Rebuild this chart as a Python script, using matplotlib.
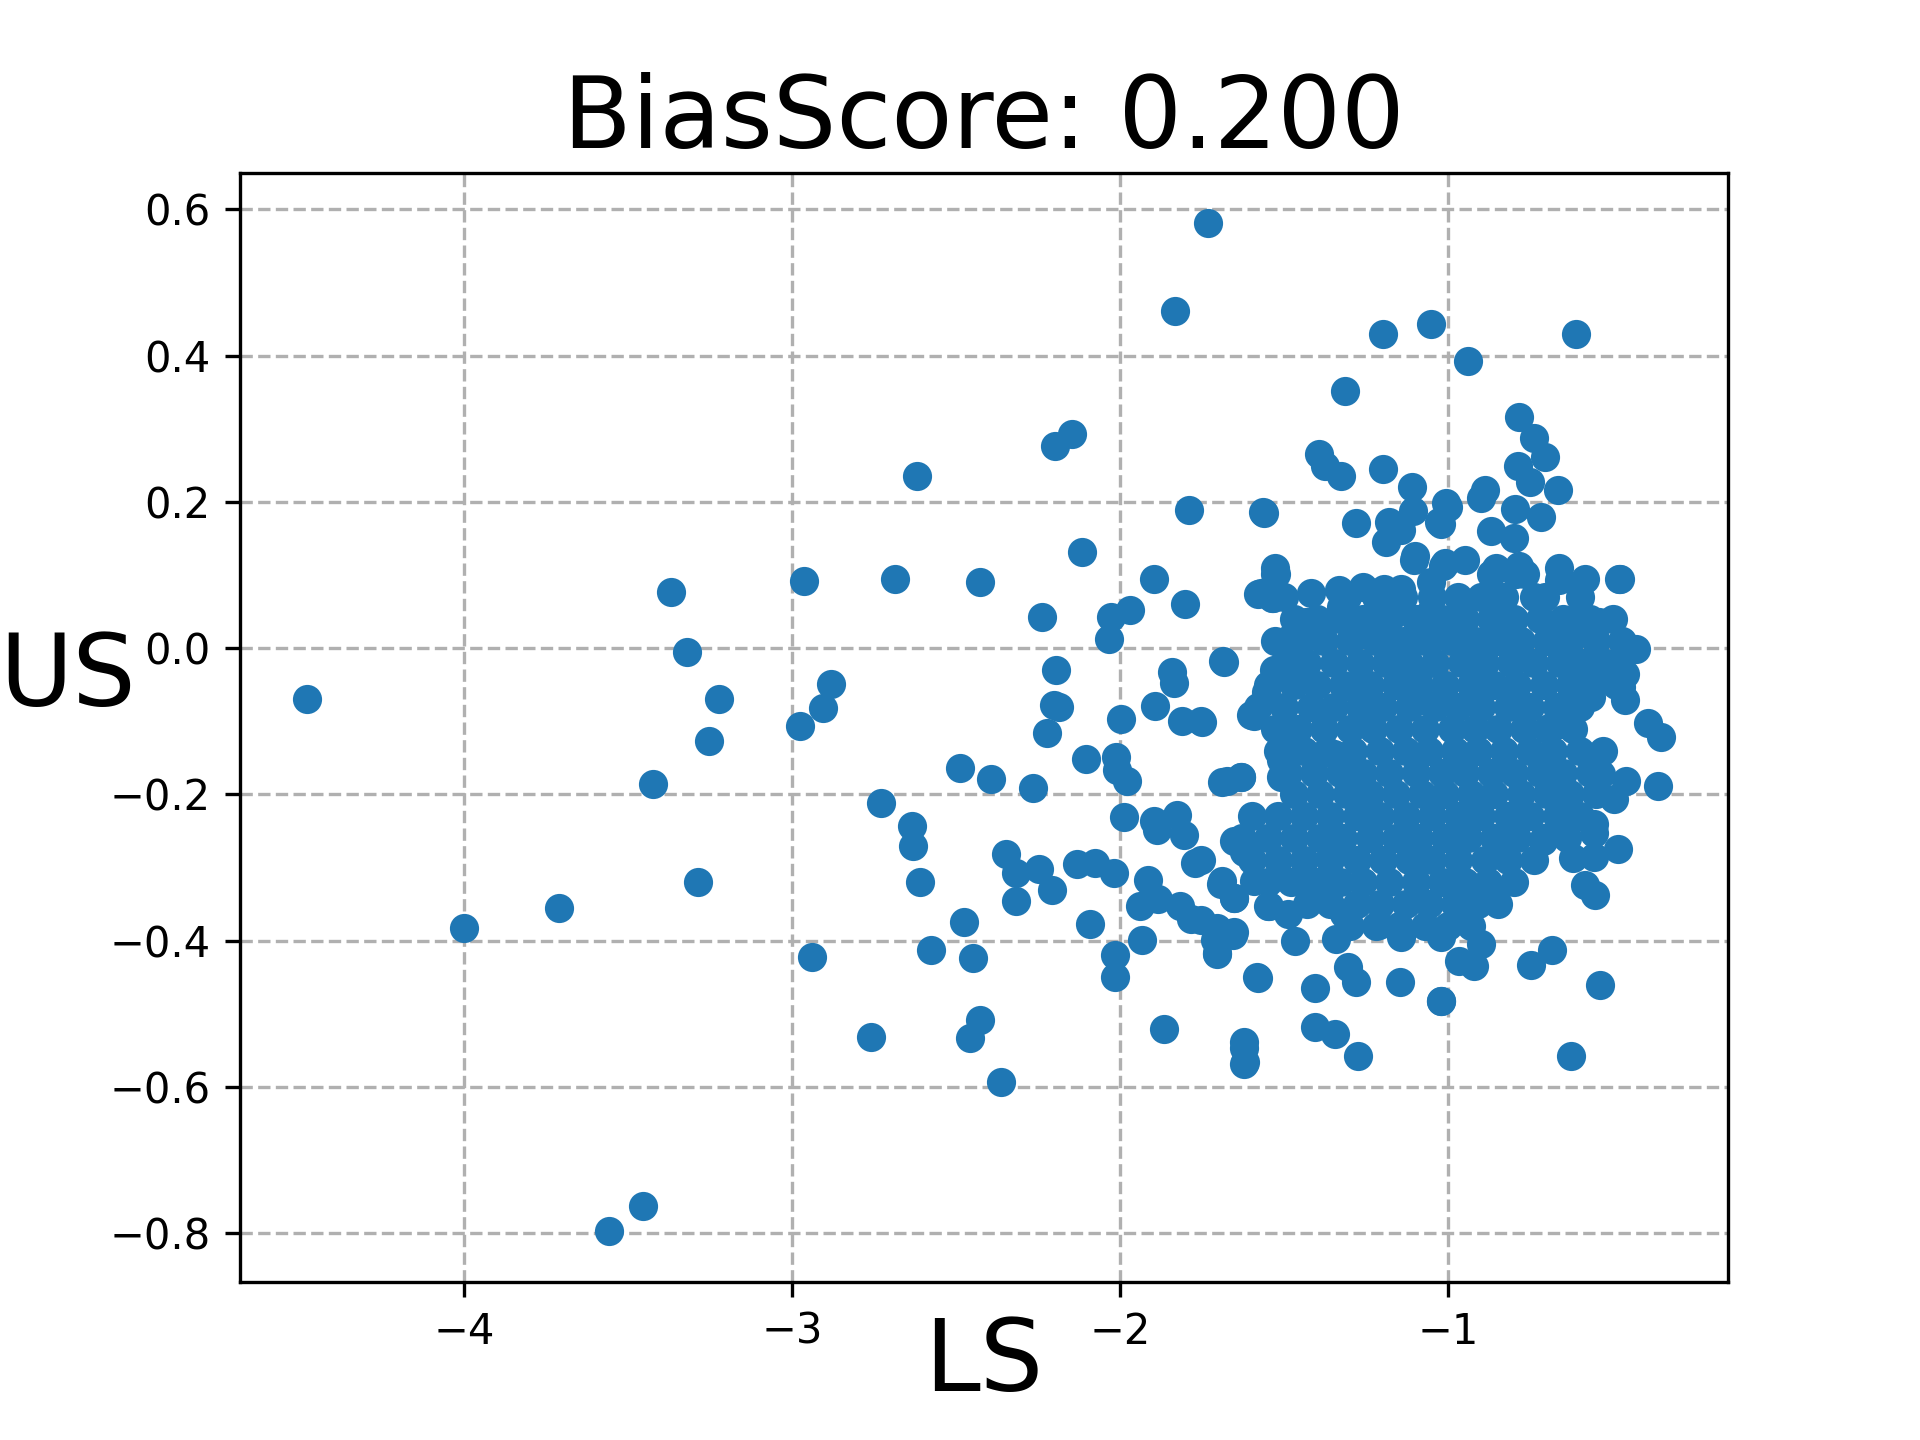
import numpy as np
import matplotlib
matplotlib.use("Agg")
import matplotlib.pyplot as plt

# pontos isolados (fora do aglomerado)
ls_esparso = [-4.478, -4.0, -3.712, -3.559, -3.454, -3.424, -3.368, -3.320, -3.286, -3.253,
              -3.223, -2.965, -2.976, -2.939, -2.905, -2.883, -2.759, -2.730, -2.688, -2.636,
              -2.632, -2.621, -2.610, -2.576, -2.490, -2.476, -2.457, -2.449, -2.427, -2.427,
              -2.393, -2.363, -2.349, -2.319, -2.319, -2.266, -2.248, -2.240, -2.222, -2.207,
              -2.203, -2.199, -2.195, -2.188, -2.147, -2.132, -2.117, -2.106, -2.091, -2.076,
              -2.035, -2.027, -2.020, -2.012, -2.009, -2.016, -2.016, -1.997, -1.990, -1.979,
              -1.971, -1.941, -1.934, -1.915, -1.897, -1.893, -1.886, -1.897, -1.889, -1.867,
              -1.844, -1.837, -1.833, -1.826, -1.818, -1.803, -1.811, -1.807, -1.792, -1.784,
              -1.773, -1.751, -1.732, -1.710, -1.706, -1.691, -1.687, -1.676, -1.654, -1.658,
              -1.624, -1.620, -1.631, -1.601, -1.583, -1.564, -1.579, -1.549, -1.527, -1.538]
us_esparso = [-0.070, -0.382, -0.355, -0.797, -0.762, -0.186, 0.077, -0.005, -0.320, -0.127,
              -0.070, 0.092, -0.106, -0.422, -0.082, -0.049, -0.531, -0.211, 0.095, -0.243,
              -0.271, 0.236, -0.320, -0.412, -0.164, -0.375, -0.533, -0.424, -0.508, 0.090,
              -0.179, -0.593, -0.281, -0.307, -0.345, -0.191, -0.302, 0.042, -0.116, -0.330,
              -0.077, 0.276, -0.030, -0.080, 0.293, -0.295, 0.131, -0.151, -0.377, -0.293,
              0.012, 0.042, -0.307, -0.149, -0.166, -0.420, -0.449, -0.097, -0.231, -0.181,
              0.052, -0.353, -0.399, -0.317, 0.095, -0.079, -0.343, -0.236, -0.248, -0.521,
              -0.032, -0.047, 0.461, -0.228, -0.352, 0.060, -0.099, -0.256, 0.189, -0.370,
              -0.293, -0.101, 0.581, -0.399, -0.417, -0.318, -0.018, -0.181, -0.342, -0.392,
              -0.539, -0.566, -0.176, -0.092, -0.449, 0.186, 0.074, -0.353, 0.101, 0.069]

# borda do aglomerado
ls_borda = [-1.200, -1.053, -1.315, -1.394, -1.376, -1.326, -1.199, -1.111, -1.562, -1.282,
            -1.180, -1.190, -1.109, -1.145, -1.101, -1.007, -1.028, -1.529, -1.017,
            -0.939, -0.611, -0.784, -0.740, -0.705, -0.787, -0.750, -0.667, -0.888, -0.901,
            -0.797, -0.718, -1.002, -1.023, -0.870, -0.799, -0.949, -1.012, -0.855, -0.784,
            -0.662, -0.585, -0.477,
            -1.529, -1.572, -1.536, -1.419, -1.333, -1.261, -1.196, -1.145, -1.328, -1.216,
            -1.165, -1.104, -1.053, -1.058, -1.434, -1.485, -1.383, -1.246, -1.124, -1.043,
            -1.684, -1.531, -1.450, -1.556, -1.755, -1.592, -1.506, -1.511, -1.633, -1.689,
            -1.511, -1.297, -1.348, -1.094, -1.084,
            -0.479, -0.662, -0.794, -0.870, -0.707, -0.601, -0.540, -0.428, -0.484, -0.463,
            -0.473, -0.463, -0.565, -0.596, -0.657, -0.392, -0.351, -0.570, -0.534, -0.458,
            -0.361, -0.494, -0.555, -0.687, -0.768,
            -1.755, -1.694, -1.653, -1.755, -1.704, -1.653, -1.704, -1.580, -1.623, -1.623,
            -1.467, -1.546, -1.490, -1.406, -1.406, -1.345, -1.277, -1.343, -1.307, -1.282,
            -1.147, -1.211, -1.145, -1.023, -1.023, -1.623, -1.653, -1.592, -1.465, -1.358,
            -1.358, -1.318,
            -0.484, -0.555, -0.621, -0.585, -0.553, -0.712, -0.555, -0.860, -0.946, -1.023,
            -0.901, -0.967, -0.921, -0.748, -0.684, -0.537, -0.626, -1.023]
us_borda = [0.429, 0.443, 0.351, 0.265, 0.249, 0.235, 0.245, 0.220, 0.185, 0.171,
            0.173, 0.145, 0.187, 0.161, 0.126, 0.198, 0.172, 0.109, 0.113,
            0.393, 0.430, 0.316, 0.288, 0.261, 0.249, 0.227, 0.216, 0.216, 0.205,
            0.191, 0.180, 0.193, 0.170, 0.160, 0.151, 0.120, 0.116, 0.109, 0.113,
            0.109, 0.094, 0.094,
            0.101, 0.075, 0.068, 0.076, 0.079, 0.084, 0.081, 0.081, 0.056, 0.056,
            0.047, 0.120, 0.090, 0.047, 0.036, 0.013, 0.013, 0.018, 0.011, 0.015,
            -0.019, -0.030, -0.026, -0.060, -0.100, -0.093, -0.126, -0.153, -0.176, -0.183,
            -0.176, -0.053, -0.144, -0.035, -0.071,
            0.094, 0.093, 0.102, 0.102, 0.070, 0.036, 0.036, -0.001, -0.021, -0.035,
            -0.053, -0.071, -0.067, -0.026, -0.103, -0.102, -0.122, -0.149, -0.172, -0.181,
            -0.188, -0.206, -0.240, -0.108, 0.102,
            -0.290, -0.322, -0.341, -0.372, -0.382, -0.388, -0.418, -0.451, -0.546, -0.568,
            -0.400, -0.352, -0.363, -0.464, -0.518, -0.528, -0.557, -0.397, -0.436, -0.457,
            -0.456, -0.379, -0.395, -0.482, -0.395, -0.279, -0.263, -0.318, -0.318, -0.281,
            -0.327, -0.363,
            -0.274, -0.286, -0.287, -0.324, -0.338, -0.263, -0.252, -0.336, -0.368, -0.386,
            -0.404, -0.427, -0.435, -0.433, -0.412, -0.461, -0.558, -0.482]

# miolo denso do aglomerado, linha a linha
linhas_us = [0.07, 0.04, 0.01, -0.02, -0.05, -0.08, -0.11, -0.14, -0.17, -0.20,
             -0.23, -0.26, -0.29, -0.32, -0.35, -0.38]
linhas_ls = [
    [-1.50, -1.31, -1.22, -1.14, -1.05, -0.97, -0.90, -0.83, -0.74, -0.60],
    [-1.47, -1.40, -1.33, -1.26, -1.18, -1.10, -1.02, -0.95, -0.87, -0.80, -0.72, -0.65, -0.57, -0.50],
    [-1.53, -1.45, -1.38, -1.30, -1.22, -1.15, -1.07, -0.99, -0.92, -0.85, -0.78, -0.70, -0.63, -0.55, -0.47],
    [-1.50, -1.43, -1.35, -1.27, -1.19, -1.12, -1.04, -0.96, -0.89, -0.81, -0.74, -0.66, -0.59, -0.52],
    [-1.55, -1.47, -1.40, -1.32, -1.24, -1.16, -1.09, -1.01, -0.93, -0.86, -0.79, -0.71, -0.63, -0.56, -0.49],
    [-1.58, -1.50, -1.42, -1.35, -1.27, -1.20, -1.12, -1.04, -0.97, -0.90, -0.82, -0.75, -0.67, -0.60],
    [-1.53, -1.46, -1.38, -1.30, -1.23, -1.15, -1.07, -0.99, -0.92, -0.85, -0.77, -0.70, -0.62],
    [-1.52, -1.44, -1.37, -1.29, -1.21, -1.13, -1.06, -0.98, -0.91, -0.83, -0.75, -0.68, -0.60, -0.53],
    [-1.49, -1.41, -1.33, -1.26, -1.18, -1.10, -1.02, -0.95, -0.87, -0.80, -0.72, -0.65, -0.57],
    [-1.47, -1.39, -1.31, -1.24, -1.16, -1.08, -1.01, -0.93, -0.86, -0.78, -0.70, -0.63, -0.55],
    [-1.60, -1.52, -1.44, -1.36, -1.28, -1.21, -1.13, -1.05, -0.97, -0.90, -0.82, -0.75, -0.67, -0.60],
    [-1.63, -1.55, -1.47, -1.39, -1.32, -1.24, -1.16, -1.09, -1.01, -0.94, -0.86, -0.79, -0.71, -0.64],
    [-1.60, -1.52, -1.44, -1.36, -1.28, -1.20, -1.12, -1.05, -0.97, -0.89, -0.82, -0.74],
    [-1.55, -1.48, -1.40, -1.33, -1.26, -1.18, -1.10, -1.02, -0.95, -0.88, -0.80],
    [-1.43, -1.36, -1.28, -1.21, -1.13, -1.06, -0.98, -0.91, -0.85],
    [-1.30, -1.22, -1.15, -1.07, -1.00, -0.93],
]

ls_miolo = []
us_miolo = []
for y, xs in zip(linhas_us, linhas_ls):
    ls_miolo += xs
    us_miolo += [y] * len(xs)

ls = ls_esparso + ls_borda + ls_miolo
us = us_esparso + us_borda + us_miolo

fig = plt.figure(figsize=(6.4, 4.8), dpi=300)
plt.scatter(ls, us, zorder=3)
plt.grid(True, linestyle='--', color='#b0b0b0', zorder=0)
plt.xlim(-4.683, -0.148)
plt.ylim(-0.866, 0.65)
plt.xticks([-4, -3, -2, -1])
plt.yticks([-0.8, -0.6, -0.4, -0.2, 0.0, 0.2, 0.4, 0.6])
plt.title("BiasScore: 0.200", fontsize=24)
plt.xlabel("LS", fontsize=24, labelpad=-9)
plt.ylabel("US", fontsize=24, rotation=0, labelpad=10)
plt.savefig("out.png", dpi=300)
